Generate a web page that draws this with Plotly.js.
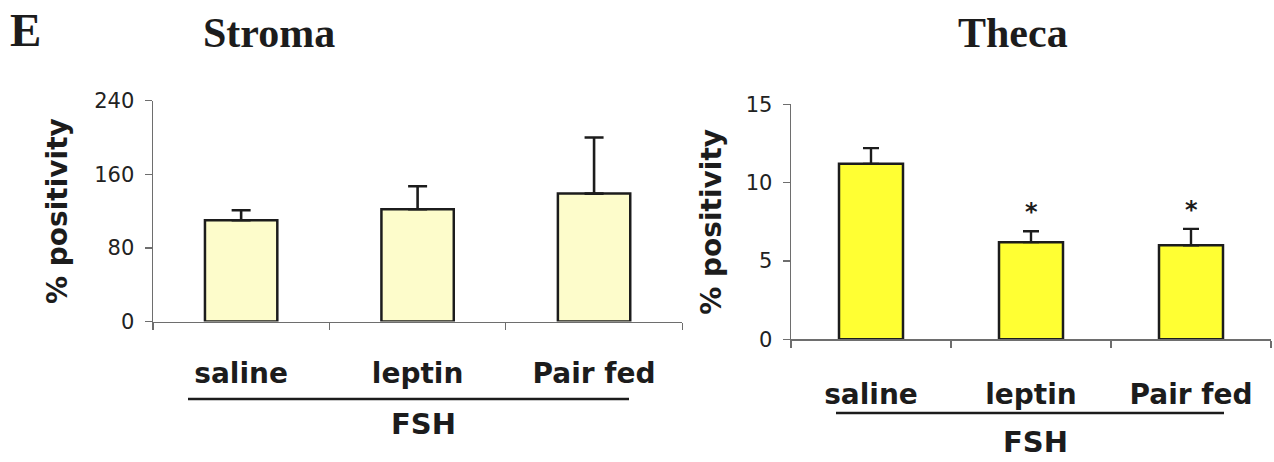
<!DOCTYPE html>
<html>
<head>
<meta charset="utf-8">
<script src="https://cdn.plot.ly/plotly-3.0.1.min.js"></script>
<style>
  html, body { margin: 0; padding: 0; background: #fff; }
  #chart { width: 1274px; height: 462px; }
</style>
</head>
<body>
<div id="chart"></div>
<script>
// ---- data ----
const categories = ["saline", "leptin", "Pair fed"];
const stromaValues = [110, 122, 139];
const stromaErrors = [11, 25, 61];
const thecaValues = [11.2, 6.2, 6.0];
const thecaErrors = [1.0, 0.7, 1.05];
const thecaSignificant = ["", "*", "*"];
const stromaTicks = [0, 80, 160, 240];
const thecaTicks = [0, 5, 10, 15];
const groupLabel = "FSH";
const panelTitles = ["Stroma", "Theca"];
const panelLetter = "E";
const yTitle = "% positivity";

// ---- helpers: pixel -> paper ----
const W = 1274, H = 462;
const fx = p => p / W;
const fy = p => 1 - p / H;

const sans = "DejaVu Sans, sans-serif";
const serif = "Liberation Serif, Times New Roman, serif";
const ink = "#1c1c1c";
const axisGrey = "#6e6e6e";

const traces = [
  {
    type: "bar", x: categories, y: stromaValues, xaxis: "x", yaxis: "y",
    width: 0.41,
    marker: { color: "#FDFCCB", line: { color: ink, width: 2.5 } },
    error_y: { type: "data", array: stromaErrors, arrayminus: stromaErrors.map(() => 0),
               symmetric: false, color: ink, thickness: 2.6, width: 9.5 },
    hoverinfo: "skip"
  },
  {
    type: "bar", x: categories, y: thecaValues, xaxis: "x2", yaxis: "y2",
    width: 0.40,
    marker: { color: "#FFFF33", line: { color: ink, width: 2.5 } },
    error_y: { type: "data", array: thecaErrors, arrayminus: thecaErrors.map(() => 0),
               symmetric: false, color: ink, thickness: 2.4, width: 8 },
    hoverinfo: "skip"
  }
];

const xCommon = {
  type: "category", categoryarray: categories, range: [-0.5, 2.5],
  tickson: "boundaries", ticks: "outside", ticklen: 7, tickwidth: 1.2, tickcolor: axisGrey,
  showline: true, linecolor: axisGrey, linewidth: 1.4, showgrid: false, zeroline: false,
  tickfont: { family: sans, size: 28, color: ink, weight: "bold" },
  ticklabelstandoff: 26, fixedrange: true
};
const yCommon = {
  ticks: "outside", ticklen: 7, tickwidth: 1.2, tickcolor: axisGrey,
  showline: true, linecolor: axisGrey, linewidth: 1.4, showgrid: false, zeroline: false,
  tickfont: { family: sans, size: 21, color: "#222" },
  ticklabelstandoff: 6, fixedrange: true
};

const annotations = [
  { text: panelLetter, xref: "paper", yref: "paper", x: fx(25), y: fy(30), showarrow: false,
    xanchor: "center", yanchor: "middle", font: { family: serif, size: 47, color: ink, weight: "bold" } },
  { text: panelTitles[0], xref: "paper", yref: "paper", x: fx(269), y: fy(33), showarrow: false,
    xanchor: "center", yanchor: "middle", font: { family: serif, size: 42, color: ink, weight: "bold" } },
  { text: panelTitles[1], xref: "paper", yref: "paper", x: fx(1013), y: fy(33), showarrow: false,
    xanchor: "center", yanchor: "middle", font: { family: serif, size: 42, color: ink, weight: "bold" } },
  { text: groupLabel, xref: "paper", yref: "paper", x: fx(423), y: fy(424), showarrow: false,
    xanchor: "center", yanchor: "middle", font: { family: sans, size: 29, color: ink, weight: "bold" } },
  { text: groupLabel, xref: "paper", yref: "paper", x: fx(1035), y: fy(442), showarrow: false,
    xanchor: "center", yanchor: "middle", font: { family: sans, size: 29, color: ink, weight: "bold" } }
];
categories.forEach((c, i) => {
  if (thecaSignificant[i]) {
    annotations.push({
      text: thecaSignificant[i], xref: "x2", yref: "y2", x: c, y: thecaValues[i] + thecaErrors[i],
      showarrow: false, xanchor: "center", yanchor: "bottom", yshift: 3,
      font: { family: sans, size: 24, color: ink, weight: "bold" }
    });
  }
});

const layout = {
  width: W, height: H,
  margin: { l: 0, r: 0, t: 0, b: 0 },
  paper_bgcolor: "#ffffff", plot_bgcolor: "rgba(0,0,0,0)",
  showlegend: false, bargap: 0.6,
  xaxis: Object.assign({}, xCommon, { domain: [fx(152.9), fx(682.3)], anchor: "y" }),
  yaxis: Object.assign({}, yCommon, {
    domain: [fy(321.5), fy(100.7)], range: [0, 240], tickvals: stromaTicks, anchor: "x",
    title: { text: yTitle, standoff: 18, font: { family: sans, size: 28, color: ink, weight: "bold" } }
  }),
  xaxis2: Object.assign({}, xCommon, { domain: [fx(791), fx(1271)], anchor: "y2", ticklabelstandoff: 30 }),
  yaxis2: Object.assign({}, yCommon, {
    domain: [fy(339.3), fy(104.3)], range: [0, 15], tickvals: thecaTicks, anchor: "x2",
    title: { text: yTitle, standoff: 16, font: { family: sans, size: 28, color: ink, weight: "bold" } }
  }),
  shapes: [
    { type: "line", xref: "paper", yref: "paper", x0: fx(188), x1: fx(629), y0: fy(399), y1: fy(399),
      line: { color: ink, width: 2.5 } },
    { type: "line", xref: "paper", yref: "paper", x0: fx(836), x1: fx(1224), y0: fy(413), y1: fy(413),
      line: { color: ink, width: 2.5 } }
  ],
  annotations: annotations
};

Plotly.newPlot("chart", traces, layout, { staticPlot: true, displayModeBar: false });
</script>
</body>
</html>
